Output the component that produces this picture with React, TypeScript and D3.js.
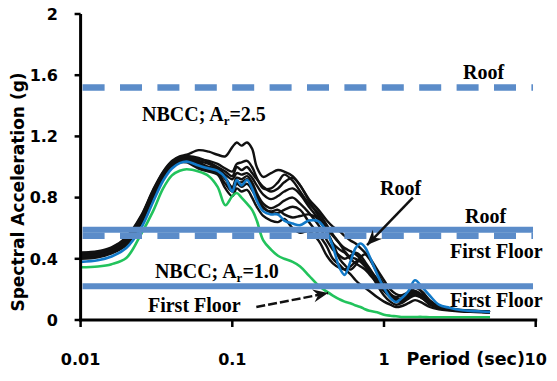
import React from "react";
import * as d3 from "d3";

// periods (sec) shared by every spectrum
const periods = [0.01, 0.013, 0.016, 0.02, 0.025, 0.03, 0.035, 0.04, 0.045, 0.05,
  0.06, 0.07, 0.08, 0.09, 0.1, 0.107, 0.115, 0.125, 0.135, 0.145,
  0.16, 0.18, 0.2, 0.22, 0.25, 0.28, 0.32, 0.37, 0.42, 0.46,
  0.51, 0.55, 0.6, 0.65, 0.7, 0.75, 0.8, 0.9, 1.0, 1.1,
  1.2, 1.3, 1.45, 1.6, 1.8, 2.0, 2.3, 2.7, 3.2, 4.0, 5.0];

// roof spectrum (blue)
const roofMean = [0.38, 0.39, 0.415, 0.47, 0.60, 0.77, 0.91, 0.99, 1.025, 1.035,
  1.01, 0.99, 0.975, 0.93, 0.84, 0.915, 0.88, 0.915, 0.86, 0.78,
  0.71, 0.69, 0.69, 0.65, 0.63, 0.62, 0.65, 0.645, 0.575, 0.48,
  0.34, 0.295, 0.38, 0.47, 0.50, 0.475, 0.42, 0.30, 0.21, 0.145,
  0.118, 0.14, 0.19, 0.26, 0.21, 0.16, 0.10, 0.08, 0.065, 0.058, 0.052];

// first floor spectrum (green)
const firstFloor = [0.345, 0.35, 0.365, 0.405, 0.56, 0.71, 0.86, 0.945, 0.975, 0.985,
  0.97, 0.94, 0.87, 0.75, 0.81, 0.83, 0.80, 0.76, 0.72, 0.65,
  0.52, 0.46, 0.42, 0.40, 0.38, 0.35, 0.29, 0.225, 0.185, 0.16,
  0.135, 0.12, 0.11, 0.095, 0.085, 0.07, 0.06, 0.05, 0.035, 0.028,
  0.024, 0.02, 0.02, 0.02, 0.02, 0.018, 0.018, 0.018, 0.018, 0.018, 0.018];

// individual records (black)
const rec1 = [0.44, 0.45, 0.475, 0.54, 0.68, 0.85, 0.97, 1.04, 1.07, 1.08,
  1.11, 1.10, 1.08, 1.07, 1.13, 1.16, 1.14, 1.16, 1.12, 1.00,
  0.935, 0.96, 0.98, 0.97, 0.94, 0.88, 0.79, 0.72, 0.65, 0.61,
  0.58, 0.55, 0.52, 0.50, 0.47, 0.44, 0.41, 0.33, 0.26, 0.20,
  0.17, 0.16, 0.17, 0.19, 0.16, 0.12, 0.09, 0.075, 0.065, 0.06, 0.055];
const rec2 = [0.43, 0.44, 0.465, 0.53, 0.67, 0.84, 0.96, 1.03, 1.06, 1.07,
  1.06, 1.03, 1.0, 0.97, 0.94, 1.0, 0.98, 1.0, 0.96, 0.92,
  0.87, 0.84, 0.86, 0.90, 0.93, 0.88, 0.78, 0.68, 0.60, 0.55,
  0.50, 0.47, 0.45, 0.43, 0.40, 0.36, 0.33, 0.27, 0.21, 0.17,
  0.15, 0.16, 0.18, 0.18, 0.14, 0.11, 0.085, 0.07, 0.062, 0.057, 0.053];
const rec3 = [0.42, 0.43, 0.455, 0.515, 0.65, 0.82, 0.95, 1.02, 1.05, 1.055,
  1.03, 1.0, 0.99, 0.93, 0.87, 0.93, 0.92, 0.94, 0.90, 0.83,
  0.76, 0.73, 0.75, 0.78, 0.80, 0.76, 0.70, 0.62, 0.52, 0.46,
  0.42, 0.40, 0.42, 0.44, 0.42, 0.38, 0.34, 0.26, 0.19, 0.15,
  0.13, 0.14, 0.17, 0.22, 0.18, 0.12, 0.09, 0.072, 0.063, 0.057, 0.052];
const rec4 = [0.41, 0.42, 0.445, 0.50, 0.64, 0.81, 0.94, 1.01, 1.04, 1.045,
  1.0, 0.98, 0.96, 0.89, 0.84, 0.89, 0.87, 0.89, 0.85, 0.80,
  0.74, 0.70, 0.70, 0.72, 0.74, 0.72, 0.64, 0.56, 0.48, 0.40,
  0.36, 0.33, 0.35, 0.38, 0.39, 0.36, 0.32, 0.23, 0.16, 0.12,
  0.10, 0.11, 0.14, 0.16, 0.14, 0.10, 0.08, 0.068, 0.06, 0.055, 0.05];
const rec5 = [0.40, 0.41, 0.435, 0.49, 0.63, 0.80, 0.93, 1.0, 1.03, 1.03,
  0.99, 0.97, 0.95, 0.86, 0.81, 0.86, 0.84, 0.85, 0.80, 0.74,
  0.68, 0.65, 0.64, 0.66, 0.60, 0.57, 0.58, 0.52, 0.42, 0.37,
  0.34, 0.33, 0.30, 0.26, 0.23, 0.21, 0.19, 0.15, 0.12, 0.10,
  0.085, 0.09, 0.11, 0.13, 0.11, 0.085, 0.07, 0.062, 0.056, 0.052, 0.048];
const rec6 = [0.43, 0.44, 0.46, 0.525, 0.665, 0.835, 0.955, 1.025, 1.055, 1.06,
  1.04, 1.02, 0.99, 0.95, 0.92, 0.96, 0.95, 0.96, 0.93, 0.88,
  0.82, 0.79, 0.81, 0.84, 0.86, 0.82, 0.74, 0.66, 0.57, 0.50,
  0.46, 0.44, 0.40, 0.37, 0.35, 0.33, 0.30, 0.24, 0.19, 0.16,
  0.14, 0.13, 0.15, 0.17, 0.15, 0.11, 0.085, 0.07, 0.062, 0.056, 0.051];
const rec7 = [0.42, 0.425, 0.45, 0.51, 0.645, 0.815, 0.945, 1.015, 1.045, 1.05,
  1.02, 0.99, 0.97, 0.92, 0.86, 0.90, 0.90, 0.92, 0.88, 0.81,
  0.73, 0.71, 0.72, 0.69, 0.67, 0.68, 0.69, 0.66, 0.58, 0.50,
  0.40, 0.36, 0.33, 0.36, 0.41, 0.43, 0.40, 0.31, 0.23, 0.17,
  0.13, 0.12, 0.15, 0.21, 0.18, 0.13, 0.09, 0.073, 0.064, 0.058, 0.053];
const rec8 = [0.44, 0.445, 0.47, 0.535, 0.675, 0.845, 0.965, 1.035, 1.065, 1.07,
  1.05, 1.04, 1.02, 0.99, 0.97, 1.02, 1.03, 1.04, 1.0, 0.93,
  0.86, 0.86, 0.90, 0.95, 0.91, 0.84, 0.76, 0.70, 0.62, 0.56,
  0.50, 0.45, 0.41, 0.40, 0.38, 0.35, 0.31, 0.25, 0.20, 0.16,
  0.14, 0.14, 0.16, 0.17, 0.14, 0.11, 0.085, 0.07, 0.062, 0.056, 0.051];
const records = [rec1, rec2, rec3, rec4, rec5, rec6, rec7, rec8];

// NBCC design levels (g)
const dashedLevels = [1.52, 0.55];
const solidLevels = [0.59, 0.22];
const levelEnd = 9.6;

const yTicks = [0, 0.4, 0.8, 1.2, 1.6, 2];
const yTickLabels = ["0", "0.4", "0.8", "1.2", "1.6", "2"];
const xTicks = [0.01, 0.1, 1, 10];
const xTickLabels = ["0.01", "0.1", "1", "10"];

// annotation anchors in data space: [period, g]
const labels = [
  { text: "Roof", at: [3.32, 1.575] },
  { text: "Roof", at: [0.941, 0.817] },
  { text: "Roof", at: [3.42, 0.634] },
  { text: "First Floor", at: [2.72, 0.405] },
  { text: "First Floor", at: [2.72, 0.085] },
  { text: "First Floor", at: [0.0278, 0.052] },
];
const nbccLabels = [
  { value: "2.5", at: [0.0254, 1.30] },
  { value: "1.0", at: [0.0309, 0.2745] },
];
const arrows = [
  { from: [1.55, 0.80], to: [0.773, 0.49], dash: "" },
  { from: [0.144, 0.085], to: [0.428, 0.176], dash: "9 3" },
];

const W = 557, H = 381;
const x = d3.scaleLog().domain([0.01, 10]).range([80.6, 535.7]);
const y = d3.scaleLinear().domain([0, 2]).range([320, 14]);

const axisFont = "'DejaVu Sans', Arial, sans-serif";
const serifFont = "'Liberation Serif', 'Times New Roman', serif";
const levelColor = "#5b8cc9";

export default function App() {
  const line = d3.line<number>()
    .x((_, i) => x(periods[i]))
    .y(d => y(d))
    .curve(d3.curveCatmullRom.alpha(0.5));

  const arrowHead = (fx: number, fy: number, tx: number, ty: number) => {
    const a = Math.atan2(ty - fy, tx - fx);
    const len = 15, half = 6.5, notch = 10;
    const p = (dx: number, dy: number) =>
      [tx + dx * Math.cos(a) - dy * Math.sin(a), ty + dx * Math.sin(a) + dy * Math.cos(a)];
    const pts = [p(0, 0), p(-len, -half), p(-notch, 0), p(-len, half)];
    return "M" + pts.map(q => q.join(",")).join("L") + "Z";
  };

  return (
    <svg width={W} height={H} style={{ position: "absolute", left: 0, top: 0, background: "#fff" }}>
      {/* records */}
      {records.map((r, i) => (
        <path key={"r" + i} d={line(r) || ""} fill="none" stroke="#111" strokeWidth={2.4} />
      ))}
      <path d={line(firstFloor) || ""} fill="none" stroke="#22c35c" strokeWidth={2.6} />
      <path d={line(roofMean) || ""} fill="none" stroke="#1279c8" strokeWidth={2.6} />

      {/* design levels */}
      {dashedLevels.map((v, i) => (
        <line key={"d" + i} x1={x(0.01) + 2} x2={x(levelEnd)} y1={y(v)} y2={y(v)}
          stroke={levelColor} strokeWidth={6.5} strokeDasharray="22 15.4" />
      ))}
      {solidLevels.map((v, i) => (
        <line key={"s" + i} x1={x(0.01) + 2} x2={x(levelEnd)} y1={y(v)} y2={y(v)}
          stroke={levelColor} strokeWidth={6} />
      ))}

      {/* axes */}
      <line x1={x(0.01)} x2={x(0.01)} y1={y(2)} y2={y(0) + 1.5} stroke="#000" strokeWidth={3} />
      <line x1={x(0.01) - 1.5} x2={x(10) + 1.5} y1={y(0)} y2={y(0)} stroke="#000" strokeWidth={3} />
      {yTicks.map((t, i) => (
        <g key={"yt" + i}>
          <line x1={x(0.01) - 6} x2={x(0.01)} y1={y(t)} y2={y(t)} stroke="#000" strokeWidth={2.5} />
          <text x={58} y={y(t)} dy="0.36em" textAnchor="end" fontFamily={axisFont}
            fontWeight="bold" fontSize={16}>{yTickLabels[i]}</text>
        </g>
      ))}
      {xTicks.map((t, i) => (
        <g key={"xt" + i}>
          <line x1={x(t)} x2={x(t)} y1={y(0)} y2={y(0) + 7} stroke="#000" strokeWidth={2.5} />
          <text x={x(t)} y={365} textAnchor="middle" fontFamily={axisFont}
            fontWeight="bold" fontSize={16}>{xTickLabels[i]}</text>
        </g>
      ))}
      <text x={525} y={365} textAnchor="end" fontFamily={axisFont} fontWeight="bold"
        fontSize={17.5}>Period (sec)</text>
      <text transform="translate(24,192) rotate(-90)" textAnchor="middle" fontFamily={axisFont}
        fontWeight="bold" fontSize={17}>Spectral Acceleration (g)</text>

      {/* annotations */}
      {labels.map((l, i) => (
        <text key={"l" + i} x={x(l.at[0])} y={y(l.at[1])} fontFamily={serifFont}
          fontWeight="bold" fontSize={20}>{l.text}</text>
      ))}
      {nbccLabels.map((l, i) => (
        <text key={"n" + i} x={x(l.at[0])} y={y(l.at[1])} fontFamily={serifFont}
          fontWeight="bold" fontSize={20}>
          NBCC; A<tspan fontSize={13} dy={4}>r</tspan><tspan dy={-4}>={l.value}</tspan>
        </text>
      ))}
      {arrows.map((a, i) => {
        const fx = x(a.from[0]), fy = y(a.from[1]), tx = x(a.to[0]), ty = y(a.to[1]);
        return (
          <g key={"a" + i}>
            <line x1={fx} y1={fy} x2={tx} y2={ty} stroke="#111" strokeWidth={2.5}
              strokeDasharray={a.dash || undefined} />
            <path d={arrowHead(fx, fy, tx, ty)} fill="#111" />
          </g>
        );
      })}
    </svg>
  );
}
